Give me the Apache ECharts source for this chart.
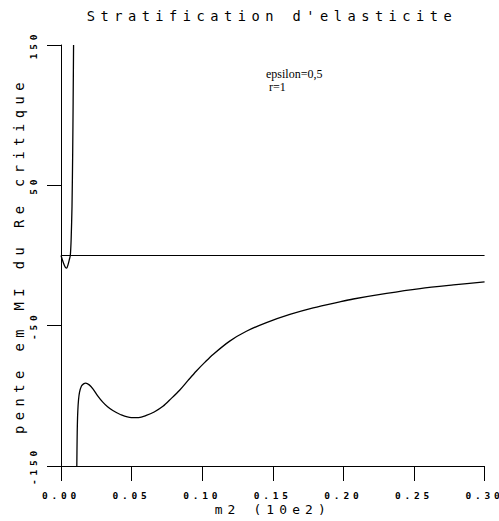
<!DOCTYPE html>
<html>
<head>
<meta charset="utf-8">
<script src="https://cdn.jsdelivr.net/npm/echarts@6/dist/echarts.min.js"></script>
<style>
    html, body { margin: 0; padding: 0; background: #fff; }
    #chart { width: 499px; height: 521px; }
    /* wide plotter-style lettering */
    #chart text { letter-spacing: 0.4em; }
    #chart text[style*="Serif"] { letter-spacing: normal; }
</style>
</head>
<body>
<div id="chart"></div>
<script>
// branche du haut (pres de m2 = 0)
var upperX = [0, 0.001, 0.002, 0.003, 0.0041, 0.005, 0.006, 0.0066, 0.0072, 0.0078, 0.0083, 0.0086, 0.0089];
var upperY = [0, -3.2, -6, -8.2, -9, -6.5, -2.5, 0, 12, 35, 75, 110, 150];

// branche du bas
var lowerX = [0.0112, 0.0114, 0.0116, 0.0119, 0.0124, 0.0131, 0.0145, 0.016, 0.0175, 0.0200, 0.0226, 0.0260,
    0.0296, 0.0330, 0.0367, 0.0420, 0.0498, 0.0550, 0.0604, 0.0660, 0.0722, 0.0780, 0.0840, 0.0900, 0.0959,
    0.1020, 0.1077, 0.1195, 0.1313, 0.1455, 0.1621, 0.1786, 0.1975, 0.2070, 0.2306, 0.2543, 0.2779, 0.3000];
var lowerY = [-150, -132, -120, -111, -103, -97.5, -93, -91.5, -91, -92.2, -95, -100,
    -104.5, -107.8, -110.5, -113.3, -115.5, -115.5, -114, -111.5, -107.5, -102, -96, -89, -82.3,
    -76, -70.5, -61, -54, -47.8, -42, -37.3, -33, -31, -27, -23.6, -21, -18.8];

// ligne horizontale a zero
var zeroX = [0, 0.30];
var zeroY = [0, 0];

var xTicks = [0, 0.05, 0.10, 0.15, 0.20, 0.25, 0.30];
var yTicks = [-150, -50, 50, 150];

function pairs(xs, ys) {
    var out = [];
    for (var i = 0; i < xs.length; i++) out.push([xs[i], ys[i]]);
    return out;
}

var mono = 'DejaVu Sans Mono';
var chart = echarts.init(document.getElementById('chart'), null, {renderer: 'svg'});

var option = {
    animation: false,
    backgroundColor: '#fff',
    title: {
        text: "Stratification d'elasticite",
        left: 267,
        textAlign: 'center',
        top: 4,
        textStyle: {fontFamily: mono, fontSize: 13.7, fontWeight: 'normal', color: '#000'}
    },
    grid: {left: 61, right: 14, top: 45, bottom: 53, containLabel: false},
    xAxis: {
        type: 'value',
        min: xTicks[0],
        max: xTicks[xTicks.length - 1],
        interval: 0.05,
        name: 'm2 (10e2)',
        nameLocation: 'middle',
        nameGap: 37,
        nameMoveOverlap: false,
        nameTextStyle: {fontFamily: mono, fontSize: 12.9, color: '#000'},
        axisLine: {onZero: false, lineStyle: {color: '#000', width: 1}},
        axisTick: {length: 15, lineStyle: {color: '#000', width: 1}},
        axisLabel: {
            margin: 24, fontFamily: mono, fontSize: 9.5, fontWeight: 'bold', color: '#000',
            showMaxLabel: true, showMinLabel: true,
            formatter: function (v) { return v.toFixed(2); }
        },
        splitLine: {show: false}
    },
    yAxis: {
        type: 'value',
        min: yTicks[0],
        max: yTicks[yTicks.length - 1],
        interval: 100,
        name: 'pente em MI du Re critique',
        nameLocation: 'middle',
        nameGap: 35,
        nameMoveOverlap: false,
        nameTextStyle: {fontFamily: mono, fontSize: 13.7, color: '#000'},
        axisLine: {onZero: false, lineStyle: {color: '#000', width: 1}},
        axisTick: {length: 14, lineStyle: {color: '#000', width: 1}},
        axisLabel: {margin: 23, rotate: 90, fontFamily: mono, fontSize: 9.5, fontWeight: 'bold', color: '#000'},
        splitLine: {show: false}
    },
    graphic: [{
        type: 'text',
        left: 266,
        top: 68,
        style: {text: 'epsilon=0,5', fontFamily: 'Liberation Serif', fontSize: 12, fill: '#000'}
    }, {
        type: 'text',
        left: 266,
        top: 81,
        style: {text: ' r=1', fontFamily: 'Liberation Serif', fontSize: 12, fill: '#000'}
    }],
    series: [
        {
            type: 'line', data: pairs(zeroX, zeroY), showSymbol: false,
            lineStyle: {color: '#000', width: 1}
        },
        {
            type: 'line', data: pairs(upperX, upperY), showSymbol: false, smooth: 0.2,
            lineStyle: {color: '#000', width: 1.3}
        },
        {
            type: 'line', data: pairs(lowerX, lowerY), showSymbol: false, smooth: 0.3,
            lineStyle: {color: '#000', width: 1.3}
        }
    ]
};
chart.setOption(option);
</script>
</body>
</html>
